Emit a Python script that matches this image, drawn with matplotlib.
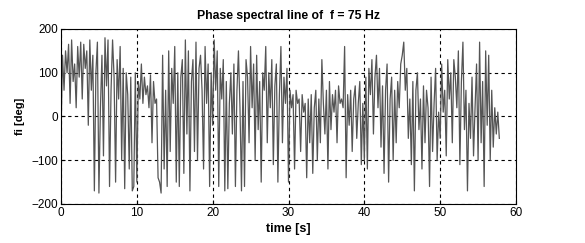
import numpy as np
import matplotlib.pyplot as plt

plt.rcParams['font.family'] = ['Liberation Sans', 'DejaVu Sans']

# phase values, one every 0.2 s
dt = 0.2
fi_0_10 = [-40, 140, 60, 150, 100, 165, 30, 175, 80, 120, 20, 160, 90, 170, 40, 165, 110, 150, -20, 175,
           60, 140, -170, 100, 170, -175, 20, 140, -90, 180, 70, 175, -160, 60, 175, 90, -150, 130, 40, 160,
           -100, 110, -165, 100, 50, -120, 90, -170, -160, 100]
fi_10_20 = [-150, 80, 40, 120, 30, 90, 50, 70, 20, 95, -60, 80, 30, 40, -140, -150, -175, 140, -120, 60,
            -160, 150, -80, 110, 30, 160, -150, 100, -160, 90, 130, -130, 175, -40, 150, -170, 80, 130, -80, 170,
            -100, 110, 140, 60, -120, 160, 30, 120, -160, 100]
fi_20_30 = [-20, 175, 60, 150, -160, 110, 40, 130, -170, 80, -165, 30, 100, -40, 120, -160, 60, 150, 20, -170,
            80, -160, 130, 90, -60, 160, 20, 120, -100, 140, -30, 80, -150, 100, 60, 160, -60, 100, 20, 130,
            -110, 70, 120, -150, 50, 160, -60, 90, 30, 110]
fi_30_40 = [-150, 60, 20, 50, -120, 60, 30, 40, -80, 50, 10, 30, -140, 40, -60, 50, -130, 20, 60, -100,
            40, -60, 130, 30, -40, 60, -120, 80, -30, 50, 10, 60, -60, 70, 30, 40, 20, 160, -140, 50,
            -20, 60, -80, 40, 70, -50, 30, 80, -110, 30]
fi_40_50 = [-100, 90, -120, 110, 50, 130, -40, 90, 140, 20, 110, -70, 70, -130, 60, 120, -150, 40, 90, -100,
            60, -60, 80, 20, 120, 140, 170, 60, 110, -50, 40, -110, 80, -170, 60, 100, -30, 40, -120, 70,
            -60, 60, 20, -160, 90, -80, 30, 110, -100, 10]
fi_50_58 = [-50, 120, 10, 60, -90, 130, 40, 100, -60, 130, 90, 20, 150, -110, 80, 170, -30, 60, -170, 30,
            -50, 90, -90, 20, 120, -100, 170, -60, 80, -160, 150, -20, 140, -100, 60, -70, 20, -40, 10, -50]

fi = np.array(fi_0_10 + fi_10_20 + fi_20_30 + fi_30_40 + fi_40_50 + fi_50_58)
t = np.arange(len(fi)) * dt

fig = plt.figure(figsize=(5.85, 2.43), dpi=100)
ax = fig.add_axes([61/585, 1-204/243, 455/585, 175/243])
ax.plot(t, fi, color='#555555', linewidth=0.9)
ax.set_xlim(0, 60)
ax.set_ylim(-200, 200)
ax.set_xticks([0, 10, 20, 30, 40, 50, 60])
ax.set_yticks([-200, -100, 0, 100, 200])
ax.grid(True, color='black', linestyle=(0, (3, 3)), linewidth=0.8)
ax.tick_params(direction='in', length=3, labelsize=8.5, pad=2)
for s in ax.spines.values():
    s.set_linewidth(0.8)
ax.set_title('Phase spectral line of  f = 75 Hz', fontsize=8.8, fontweight='bold', pad=7)
ax.set_xlabel('time [s]', fontsize=9, fontweight='bold', labelpad=3)
ax.set_ylabel('fi [deg]', fontsize=8, fontweight='bold', labelpad=5)
plt.savefig('out.png', dpi=100)
